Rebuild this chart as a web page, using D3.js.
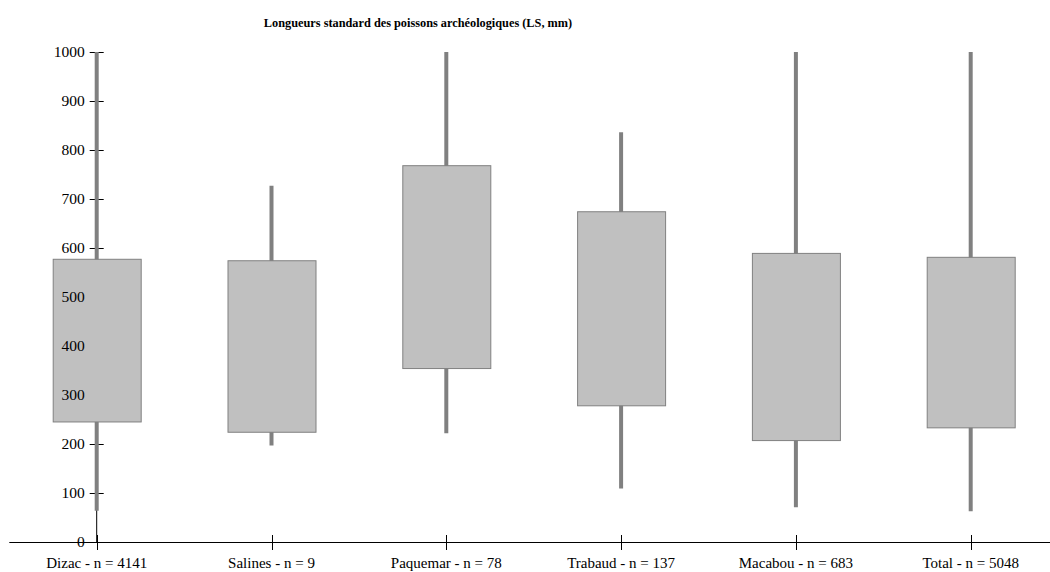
<!DOCTYPE html>
<html>
<head>
<meta charset="utf-8">
<script src="https://cdn.jsdelivr.net/npm/d3@7"></script>
<style>
  html, body { margin: 0; padding: 0; background: #ffffff; }
  svg { display: block; }
</style>
</head>
<body>
<svg id="chart" width="1050" height="572"></svg>
<script>
const categories = ["Dizac - n = 4141", "Salines - n = 9", "Paquemar - n = 78", "Trabaud - n = 137", "Macabou - n = 683", "Total - n = 5048"];
const lowValues = [64, 197, 222, 109, 71, 63];
const q1Values = [246, 225, 355, 279, 208, 234];
const q3Values = [578, 575, 769, 675, 590, 582];
const highValues = [1000, 727, 1000, 836, 1000, 1000];
const yTicks = [0, 100, 200, 300, 400, 500, 600, 700, 800, 900, 1000];
const title = "Longueurs standard des poissons archéologiques (LS, mm)";

const FONT = "'Liberation Serif', 'Times New Roman', Times, serif";
const data = categories.map((c, i) => ({cat: c, low: lowValues[i], q1: q1Values[i], q3: q3Values[i], high: highValues[i]}));

const svg = d3.select("#chart");
const x = d3.scaleBand().domain(categories).range([9.3, 1058.1]).padding(0);
const y = d3.scaleLinear().domain([0, 1000]).range([542, 52]);
const cx = d => x(d) + x.bandwidth() / 2;
const x0 = cx(categories[0]);
const boxW = 88;

// y axis line
svg.append("line").attr("x1", x0).attr("x2", x0).attr("y1", y(0)).attr("y2", y(1000))
  .attr("stroke", "#000").attr("stroke-width", 1);
// y ticks
svg.selectAll(".ytick").data(yTicks).join("line")
  .attr("x1", x0 - 7).attr("x2", x0 + 7)
  .attr("y1", d => Math.round(y(d)) + 0.5).attr("y2", d => Math.round(y(d)) + 0.5)
  .attr("stroke", "#000").attr("stroke-width", 1);

// x axis
svg.append("line").attr("x1", x.range()[0]).attr("x2", x.range()[1])
  .attr("y1", y(0) + 0.5).attr("y2", y(0) + 0.5).attr("stroke", "#000").attr("stroke-width", 1);
svg.selectAll(".xtick").data(categories).join("line")
  .attr("x1", d => Math.round(cx(d)) + 0.5).attr("x2", d => Math.round(cx(d)) + 0.5)
  .attr("y1", y(0) - 7).attr("y2", y(0) + 8)
  .attr("stroke", "#000").attr("stroke-width", 1);

// whiskers
svg.selectAll(".whisker").data(data).join("line")
  .attr("x1", d => cx(d.cat)).attr("x2", d => cx(d.cat))
  .attr("y1", d => y(d.low)).attr("y2", d => y(d.high))
  .attr("stroke", "#808080").attr("stroke-width", 4);

// boxes
svg.selectAll(".box").data(data).join("rect")
  .attr("x", d => cx(d.cat) - boxW / 2 + 0.5)
  .attr("width", boxW)
  .attr("y", d => y(d.q3) + 0.5)
  .attr("height", d => y(d.q1) - y(d.q3))
  .attr("fill", "#c0c0c0").attr("stroke", "#808080").attr("stroke-width", 1);

// y tick labels
svg.selectAll(".ylab").data(yTicks).join("text")
  .attr("x", x0 - 12).attr("y", d => y(d))
  .attr("dy", "0.35em").attr("text-anchor", "end")
  .attr("font-family", FONT).attr("font-size", 15.5).attr("fill", "#000").text(d => d);

// x labels
svg.selectAll(".xlab").data(categories).join("text")
  .attr("x", d => cx(d)).attr("y", 568)
  .attr("text-anchor", "middle")
  .attr("font-family", FONT).attr("font-size", 15).attr("fill", "#000").text(d => d);

// title
svg.append("text").attr("x", 418).attr("y", 27).attr("text-anchor", "middle")
  .attr("font-family", FONT).attr("font-size", 12.3).attr("font-weight", "bold")
  .attr("fill", "#000").text(title);
</script>
</body>
</html>
